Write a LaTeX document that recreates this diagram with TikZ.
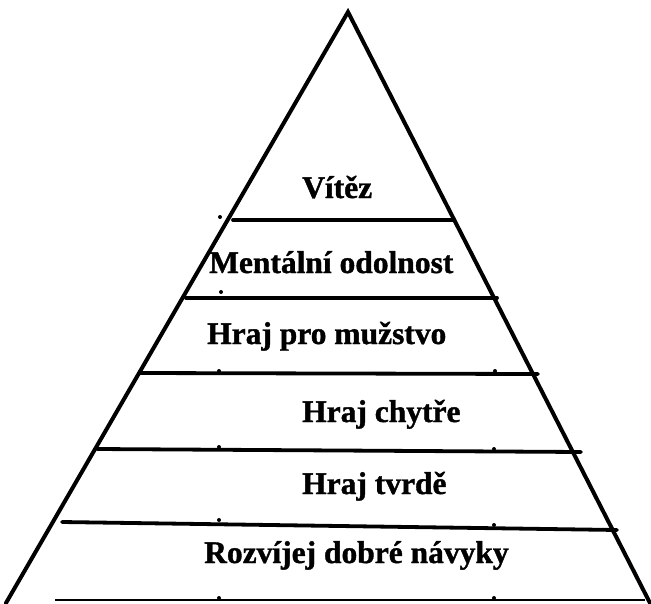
\documentclass[tikz,border=0pt]{standalone}
\usepackage{fontspec}
\setmainfont{Liberation Serif}
\newfontfamily\heavyserif{Liberation Serif}[BoldFeatures={FakeBold=1.2}]
\begin{document}
\begin{tikzpicture}[x=1pt,y=-1pt,
  side/.style={line width=4pt,line cap=round,line join=miter},
  level/.style={line width=3.8pt,line cap=round},
  baseline/.style={line width=2.2pt},
  lbl/.style={anchor=base west,inner sep=0pt,font=\heavyserif\fontsize{31.5}{36}\selectfont\bfseries},
  speck/.style={fill=black,circle,inner sep=0pt,minimum size=4pt}]
\useasboundingbox (0,0) rectangle (651,603);
% triangle corners
\coordinate (apex) at (348,12);
\coordinate (bl) at (6,603);
\coordinate (br) at (650,603);
\draw[side] (bl) -- (apex) -- (br);
% level line end points
\coordinate (a1) at (233,220); \coordinate (b1) at (454,220);
\coordinate (a2) at (186,298); \coordinate (b2) at (497,298);
\coordinate (a3) at (139,373); \coordinate (b3) at (538,374);
\coordinate (a4) at (97,449);  \coordinate (b4) at (581,452);
\coordinate (a5) at (62,522);  \coordinate (b5) at (617,530);
\coordinate (a6) at (55,600);  \coordinate (b6) at (645,600);
\draw[level] (a1) -- (b1);
\draw[level] (a2) -- (b2);
\draw[level] (a3) -- (b3);
\draw[level] (a4) -- (b4);
\draw[level] (a5) -- (b5);
\draw[baseline] (a6) -- (b6);
% labels
\node[lbl] (t1) at (302,198) {Vítěz};
\node[lbl] (t2) at (209,273) {Mentální odolnost};
\node[lbl] (t3) at (207,344) {Hraj pro mužstvo};
\node[lbl] (t4) at (302,422) {Hraj chytře};
\node[lbl] (t5) at (302,494) {Hraj tvrdě};
\node[lbl] (t6) at (204,563) {Rozvíjej dobré návyky};
% small specks
\node[speck] (s1) at (220,217) {};
\node[speck] (s2) at (221,292) {};
\node[speck] (s3) at (219,371) {};
\node[speck] (s4) at (495,371) {};
\node[speck] (s5) at (219,447) {};
\node[speck] (s6) at (494,449) {};
\node[speck] (s7) at (219,520) {};
\node[speck] (s8) at (494,525) {};
\node[speck] (s9) at (219,598) {};
\node[speck] (s10) at (494,598) {};
\end{tikzpicture}
\end{document}
